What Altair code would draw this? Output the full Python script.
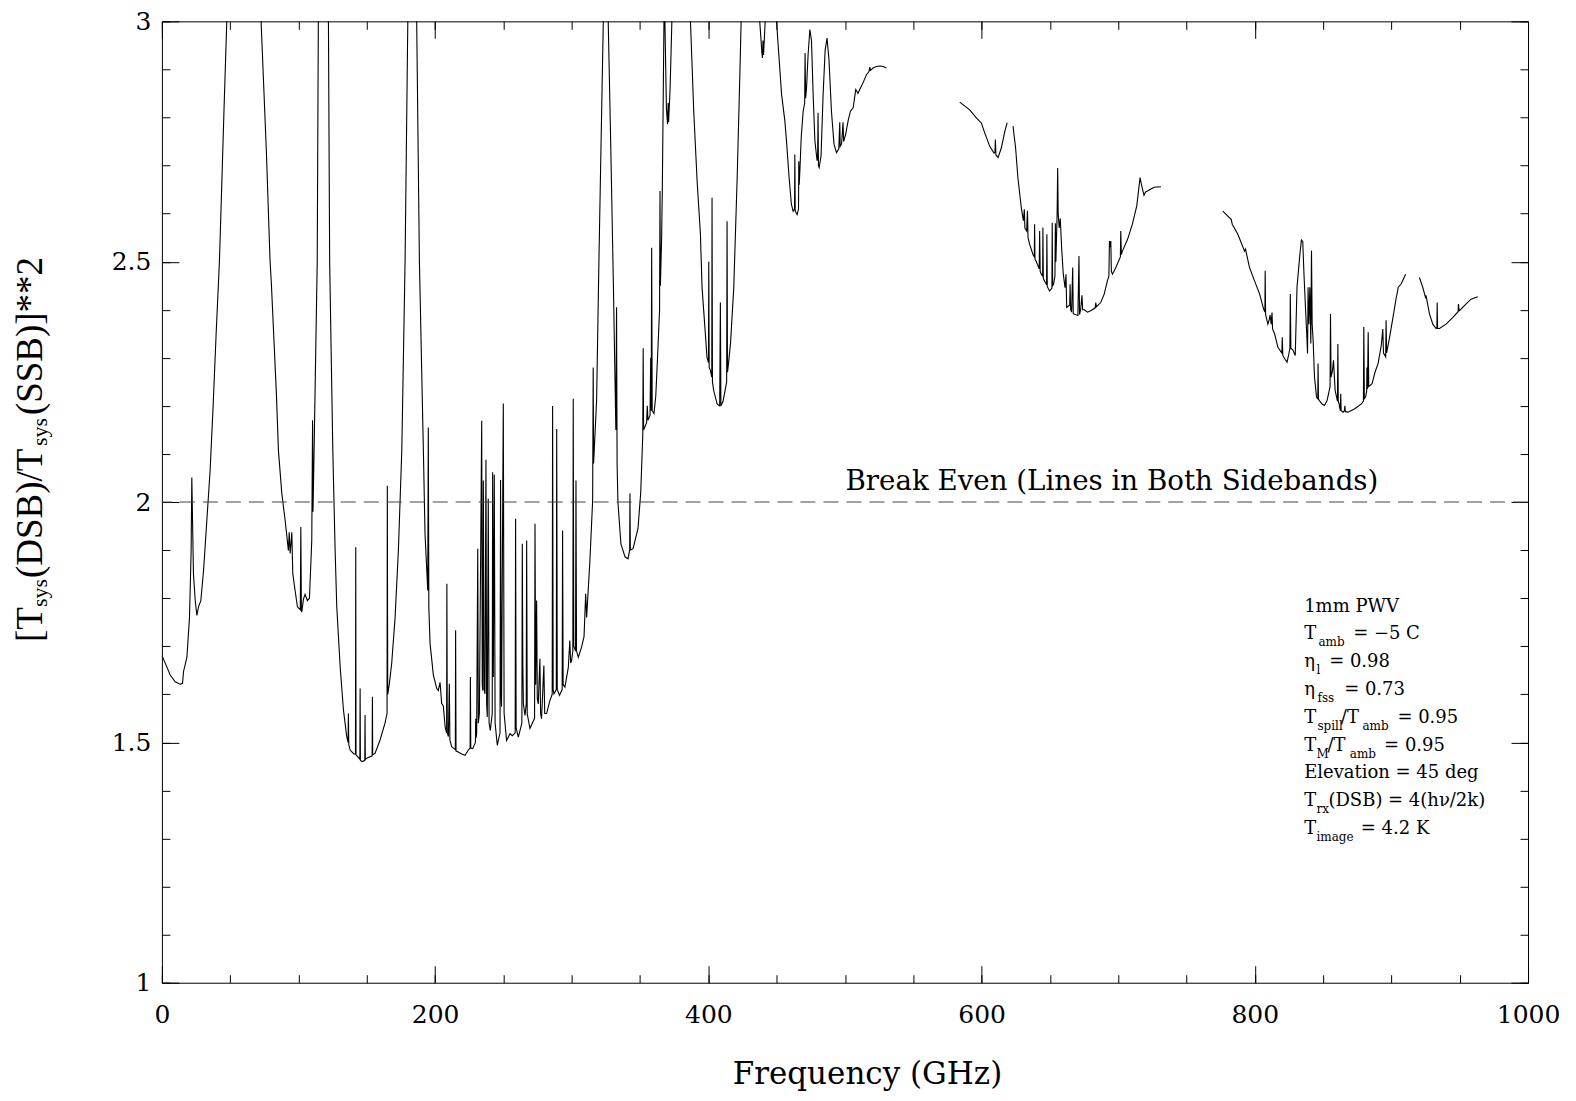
import altair as alt
import pandas as pd

# ---------------- data ----------------
# (frequency GHz, [Tsys(DSB)/Tsys(SSB)]**2) ; values > 3 are off-scale (clipped)
SEG1 = [
    (0.0, 1.681), (3.6, 1.657), (6.1, 1.640), (9.7, 1.626), (13.4, 1.621), (15.1, 1.623),
    (15.8, 1.647), (18.3, 1.677), (20.2, 1.760), (21.4, 1.899), (21.9, 2.051), (22.5, 1.95),
    (23.1, 1.85), (24.4, 1.795), (25.6, 1.764), (26.8, 1.782), (28.5, 1.795), (30.5, 1.858),
    (32.9, 1.962), (35.3, 2.066), (37.5, 2.20), (39.7, 2.35), (42.1, 2.50), (43.4, 2.62),
    (45.5, 2.82), (47.5, 3.0), (49.0, 3.4), (60.0, 3.6), (71.0, 3.4), (72.6, 3.0),
    (76.5, 2.727), (79.2, 2.50), (80.1, 2.456), (83.8, 2.226), (85.3, 2.107), (87.8, 2.017),
    (90.2, 1.962), (92.6, 1.899), (93.2, 1.937), (93.9, 1.893), (95.1, 1.937), (95.8, 1.851),
    (97.5, 1.816), (99.2, 1.782), (101.3, 1.776), (101.7, 1.948), (102.1, 1.775), (102.4, 1.771),
    (103.6, 1.798), (104.8, 1.808), (106.5, 1.795), (108.0, 1.80), (109.7, 1.920), (110.3, 2.17),
    (110.6, 1.98), (111.4, 2.107), (113.7, 2.50), (114.5, 3.0), (116.0, 3.5), (120.0, 3.5),
    (121.9, 3.0), (122.8, 2.50), (125.1, 2.107), (126.8, 1.899), (128.0, 1.782), (130.5, 1.657),
    (132.9, 1.567), (135.3, 1.512), (136.3, 1.50), (136.5, 1.560), (136.8, 1.495), (137.8, 1.484),
    (140.2, 1.477), (141.7, 1.475), (141.9, 1.906), (142.1, 1.474), (144.9, 1.465), (145.1, 1.612),
    (145.3, 1.463), (146.5, 1.460), (148.5, 1.462), (148.7, 1.557), (148.9, 1.464), (149.9, 1.467),
    (153.9, 1.472), (154.1, 1.595), (154.3, 1.474), (156.0, 1.477), (159.7, 1.505), (163.3, 1.540),
    (164.8, 1.56), (165.0, 2.034), (165.3, 1.60), (166.5, 1.622), (168.2, 1.664), (170.7, 1.760),
    (173.1, 1.899), (175.6, 2.107), (178.0, 2.50), (180.0, 3.0), (181.0, 3.5), (185.5, 3.5),
    (186.5, 3.0), (188.5, 2.50), (191.4, 2.107), (192.6, 1.934), (194.6, 1.816), (195.0, 2.155),
    (195.4, 1.78), (196.3, 1.706), (198.7, 1.640), (201.2, 1.612), (202.3, 1.608), (203.6, 1.625),
    (204.8, 1.581), (206.0, 1.576), (207.3, 1.532), (208.4, 1.52), (208.6, 1.830), (208.9, 1.52),
    (209.7, 1.512), (210.4, 1.622), (210.8, 1.505), (212.1, 1.491), (214.8, 1.485), (215.0, 1.733),
    (215.3, 1.482), (216.9, 1.480), (219.5, 1.476), (221.9, 1.473), (224.3, 1.484), (225.6, 1.488),
    (225.8, 1.636), (226.1, 1.488), (227.5, 1.487), (229.5, 1.50), (229.7, 1.549), (230.0, 1.51),
    (230.4, 1.518), (231.2, 1.903), (231.6, 1.54), (232.4, 1.560), (234.1, 2.169), (234.5, 1.62),
    (234.8, 1.608), (235.3, 2.045), (235.8, 1.61), (236.5, 1.601), (237.2, 2.088), (237.7, 1.58),
    (238.2, 1.553), (238.9, 2.007), (239.5, 1.54), (240.4, 1.525), (241.8, 1.56), (242.1, 2.062),
    (242.6, 1.636), (243.3, 2.057), (243.9, 1.54), (245.5, 1.494), (247.5, 1.52), (247.9, 2.046),
    (248.3, 1.60), (248.6, 1.574), (249.9, 2.205), (250.5, 1.56), (252.3, 1.504), (254.8, 1.518),
    (256.5, 1.514), (258.6, 1.52), (258.9, 1.965), (259.3, 1.53), (260.9, 1.511), (263.5, 1.54),
    (263.8, 1.913), (264.2, 1.66), (264.6, 1.58), (265.8, 1.556), (266.7, 1.58), (267.0, 1.920),
    (267.4, 1.56), (269.4, 1.529), (272.8, 1.55), (273.1, 1.955), (273.6, 1.62), (274.3, 1.795),
    (274.8, 1.59), (275.5, 1.580), (276.7, 1.674), (277.2, 1.56), (277.9, 1.549), (279.6, 1.660),
    (280.2, 1.56), (281.6, 1.560), (284.0, 1.587), (285.7, 1.60), (286.0, 2.200), (286.4, 1.61),
    (287.0, 1.601), (288.7, 1.61), (289.0, 2.152), (289.4, 1.61), (291.0, 1.598), (293.0, 1.61),
    (293.3, 1.941), (293.7, 1.62), (295.0, 1.615), (297.5, 1.656), (298.6, 1.712), (299.2, 1.665),
    (299.9, 1.670), (300.8, 1.69), (301.1, 2.215), (301.5, 1.70), (302.8, 1.69), (303.1, 2.045),
    (303.5, 1.69), (304.8, 1.677), (307.2, 1.698), (309.0, 1.72), (310.2, 1.809), (310.9, 1.760),
    (313.3, 1.878), (315.3, 2.003), (315.7, 2.28), (316.0, 2.08), (318.2, 2.211), (319.9, 2.502),
    (323.1, 3.0), (324.0, 3.5), (326.0, 3.5), (326.7, 3.0), (328.5, 2.75), (330.5, 2.45),
    (332.3, 2.15), (332.8, 2.405), (333.2, 2.08), (333.8, 2.0), (336.0, 1.913), (339.0, 1.886),
    (341.2, 1.882), (342.4, 1.90), (342.6, 2.018), (342.9, 1.90), (344.9, 1.903), (348.5, 1.945),
    (350.5, 2.02), (352.0, 2.14), (352.3, 2.32), (352.6, 2.15), (354.8, 2.165), (355.3, 2.20),
    (355.8, 2.17), (357.3, 2.18), (357.8, 2.30), (358.2, 2.19), (358.5, 2.529), (358.9, 2.19),
    (360.2, 2.184), (361.5, 2.22), (362.8, 2.30), (364.3, 2.40), (364.6, 2.647), (364.9, 2.45),
    (365.8, 2.55), (366.3, 2.65), (367.0, 2.85), (367.5, 3.0), (367.8, 3.1), (368.2, 3.0),
    (369.3, 2.82), (370.1, 2.786), (370.6, 2.83), (370.9, 2.79), (372.0, 2.86), (373.3, 3.0),
    (375.0, 3.5), (385.0, 3.5), (386.9, 3.0), (389.3, 2.813), (391.8, 2.667), (394.2, 2.557),
    (395.4, 2.446), (396.6, 2.398), (397.8, 2.35), (399.0, 2.301), (400.1, 2.29), (400.3, 2.50),
    (400.6, 2.28), (401.5, 2.274), (402.5, 2.26), (402.7, 2.633), (403.0, 2.25), (403.9, 2.232),
    (406.4, 2.204), (408.3, 2.200), (408.8, 2.415), (409.2, 2.20), (410.8, 2.21), (413.4, 2.25),
    (413.7, 2.584), (414.0, 2.27), (414.2, 2.274), (416.2, 2.329), (418.6, 2.446), (421.1, 2.675),
    (423.0, 2.882), (424.0, 3.0), (425.0, 3.5), (436.5, 3.5), (437.6, 3.0), (439.2, 2.935),
    (439.6, 2.924), (440.0, 2.96), (440.4, 2.93), (441.6, 3.0), (442.5, 3.5), (449.0, 3.5),
    (449.9, 3.0), (453.6, 2.848), (456.0, 2.793), (457.2, 2.751), (459.1, 2.675), (460.8, 2.619),
    (462.1, 2.605), (463.1, 2.61), (463.3, 2.723), (463.6, 2.605), (465.0, 2.598), (466.0, 2.61),
    (466.2, 2.709), (466.5, 2.66), (467.0, 2.689), (468.0, 2.76), (469.4, 2.813), (470.5, 2.83),
    (470.8, 2.934), (471.2, 2.84), (471.8, 2.858), (473.0, 2.93), (474.3, 2.983), (475.5, 2.96),
    (476.7, 2.848), (478.0, 2.751), (479.6, 2.710), (480.0, 2.72), (480.3, 2.81), (480.6, 2.70),
    (481.1, 2.696), (482.5, 2.72), (484.0, 2.848), (485.5, 2.94), (486.9, 2.965), (488.3, 2.92),
    (490.1, 2.813), (492.0, 2.744), (493.8, 2.727), (495.5, 2.735), (496.2, 2.79), (496.5, 2.74),
    (497.5, 2.745), (498.6, 2.79), (499.0, 2.75), (500.5, 2.765), (502.3, 2.793), (504.0, 2.813),
    (506.0, 2.820), (507.9, 2.858), (508.6, 2.855), (509.5, 2.85), (510.8, 2.858), (513.2, 2.872),
    (515.7, 2.889), (517.5, 2.895), (518.2, 2.905), (518.6, 2.898), (520.6, 2.903), (523.0, 2.906),
    (525.5, 2.907), (528.0, 2.906), (530.4, 2.903),
]

SEG2 = [
    (584.0, 2.832), (591.3, 2.816), (596.2, 2.799), (599.0, 2.791), (599.8, 2.789), (602.3, 2.768),
    (606.0, 2.740), (609.1, 2.726), (609.8, 2.728), (610.1, 2.754), (610.5, 2.722), (612.1, 2.717),
    (614.5, 2.737), (617.0, 2.771), (618.7, 2.789),
]

SEG3 = [
    (623.0, 2.782), (624.9, 2.737), (626.6, 2.674), (629.1, 2.612), (630.6, 2.585), (631.3, 2.609),
    (631.7, 2.57), (633.0, 2.564), (633.6, 2.606), (634.0, 2.55), (635.2, 2.536), (637.6, 2.515),
    (638.6, 2.51), (638.8, 2.578), (639.1, 2.505), (640.0, 2.501), (642.2, 2.485), (642.5, 2.564),
    (642.9, 2.48), (643.7, 2.474), (644.7, 2.47), (644.9, 2.571), (645.2, 2.465), (646.1, 2.460),
    (647.6, 2.452), (647.8, 2.557), (648.1, 2.448), (649.8, 2.439), (651.5, 2.445), (651.7, 2.581),
    (652.0, 2.45), (652.7, 2.453), (653.7, 2.47), (654.0, 2.58), (654.4, 2.50), (655.3, 2.60),
    (655.7, 2.695), (656.1, 2.60), (656.8, 2.57), (657.6, 2.59), (658.6, 2.529), (659.8, 2.474),
    (661.1, 2.446), (661.8, 2.474), (662.3, 2.405), (664.5, 2.41), (664.8, 2.453), (665.2, 2.40),
    (665.9, 2.395), (666.7, 2.488), (667.1, 2.392), (667.6, 2.391), (670.5, 2.388), (671.3, 2.512),
    (671.7, 2.39), (672.5, 2.40), (673.5, 2.43), (674.0, 2.40), (675.2, 2.40), (677.5, 2.395),
    (679.9, 2.398), (683.2, 2.404), (683.6, 2.415), (684.0, 2.406), (687.2, 2.415), (689.7, 2.432),
    (692.1, 2.460), (693.2, 2.47), (693.6, 2.543), (694.2, 2.53), (694.6, 2.543), (695.0, 2.48),
    (695.8, 2.474), (698.3, 2.488), (701.6, 2.51), (701.9, 2.564), (702.3, 2.515), (703.1, 2.522),
    (706.8, 2.546), (710.4, 2.578), (713.6, 2.616), (716.0, 2.675), (717.2, 2.658), (718.9, 2.638),
    (720.0, 2.645), (721.4, 2.647), (723.9, 2.651), (726.4, 2.655), (731.3, 2.656),
]

SEG4 = [
    (776.6, 2.605), (779.5, 2.597), (782.7, 2.588), (783.5, 2.578), (787.6, 2.557), (792.5, 2.522),
    (793.2, 2.526), (796.1, 2.488), (799.8, 2.460), (803.5, 2.433), (806.4, 2.402), (807.4, 2.395),
    (807.6, 2.481), (807.9, 2.39), (809.6, 2.370), (810.6, 2.38), (811.2, 2.389), (812.0, 2.37),
    (812.6, 2.394), (813.0, 2.36), (814.5, 2.350), (816.9, 2.322), (819.8, 2.31), (820.1, 2.343),
    (820.5, 2.305), (821.9, 2.298), (823.6, 2.291), (825.0, 2.309), (825.7, 2.32), (826.0, 2.433),
    (826.4, 2.32), (827.9, 2.316), (829.6, 2.305), (830.9, 2.447), (832.8, 2.509), (834.1, 2.545),
    (835.1, 2.542), (836.0, 2.474), (837.2, 2.398), (838.0, 2.35), (838.6, 2.309), (839.0, 2.447),
    (839.6, 2.37), (840.3, 2.447), (841.0, 2.33), (841.5, 2.523), (842.0, 2.37), (842.7, 2.336),
    (843.7, 2.260), (845.2, 2.218), (846.1, 2.215), (846.3, 2.288), (846.6, 2.214), (847.3, 2.211),
    (849.2, 2.204), (851.0, 2.201), (852.9, 2.211), (855.1, 2.24), (855.4, 2.391), (855.8, 2.26),
    (856.9, 2.274), (857.6, 2.295), (858.8, 2.232), (860.5, 2.21), (860.8, 2.329), (861.1, 2.21),
    (861.7, 2.204), (862.6, 2.19), (862.9, 2.225), (863.2, 2.19), (864.6, 2.187), (865.6, 2.19),
    (865.9, 2.20), (866.3, 2.188), (868.3, 2.187), (873.2, 2.194), (878.0, 2.204), (879.5, 2.21),
    (879.8, 2.364), (880.2, 2.215), (881.0, 2.218), (881.9, 2.23), (882.1, 2.28), (882.5, 2.235),
    (883.0, 2.353), (883.4, 2.24), (885.8, 2.246), (888.0, 2.27), (890.2, 2.288), (892.6, 2.326),
    (893.7, 2.36), (894.2, 2.31), (895.8, 2.302), (896.1, 2.378), (896.5, 2.31), (898.7, 2.343),
    (901.2, 2.385), (903.6, 2.426), (904.6, 2.44), (905.0, 2.447), (907.2, 2.454), (910.4, 2.474),
]

SEG5 = [
    (920.5, 2.467), (922.9, 2.447), (924.9, 2.426), (925.3, 2.43), (927.9, 2.391), (930.3, 2.370),
    (932.7, 2.361), (933.3, 2.362), (933.5, 2.415), (933.8, 2.361), (935.2, 2.361), (940.0, 2.370),
    (945.0, 2.384), (948.8, 2.396), (949.1, 2.412), (949.5, 2.398), (949.8, 2.398), (954.7, 2.412),
    (958.3, 2.422), (963.2, 2.427),
]

X_MAJOR = [0, 200, 400, 600, 800, 1000]
X_MINOR = [50 * i for i in range(21)]
Y_MAJOR = [1.0, 1.5, 2.0, 2.5, 3.0]
Y_MINOR = [round(1.0 + 0.1 * i, 1) for i in range(21)]
BREAK_EVEN = 2.0

BREAK_TEXT = "Break Even (Lines in Both Sidebands)"
X_TITLE = "Frequency (GHz)"

# annotation block: (text, page-x, line index)
ANNOT_MAIN = [
    ("1mm PWV", 1305, 0),
    ("T", 1305, 1), ("= \u22125 C", 1354, 1),
    ("\u03b7", 1305, 2), ("= 0.98", 1330, 2),
    ("\u03b7", 1305, 3), ("= 0.73", 1345, 3),
    ("T", 1305, 4), ("/T", 1341.7, 4), ("= 0.95", 1398.3, 4),
    ("T", 1305, 5), ("/T", 1328.3, 5), ("= 0.95", 1385, 5),
    ("Elevation = 45 deg", 1305, 6),
    ("T", 1305, 7), ("(DSB) = 4(h\u03bd/2k)", 1329.3, 7),
    ("T", 1305, 8), ("= 4.2 K", 1361.7, 8),
]
ANNOT_SUB = [
    ("amb", 1319.3, 1), ("l", 1317.3, 2), ("fss", 1318.3, 3),
    ("spill", 1318.3, 4), ("amb", 1363.3, 4),
    ("M", 1317.3, 5), ("amb", 1350.7, 5),
    ("rx", 1317.3, 7), ("image", 1317.3, 8),
]
# y-axis title pieces (rotated, reading upward): (text, page-y where the piece starts)
YT_MAIN = [("[T", 642), ("(DSB)/T", 578), ("(SSB)]**2", 415)]
YT_SUB = [("sys", 607), ("sys", 446)]

# ---------------- layout ----------------
W, H = 1367, 962
X0, Y0 = 162, 21          # page position of the plot origin


def fx(px):
    return (px - X0) * 1000.0 / W


def fy(py):
    return 3.0 - (py - Y0) * 2.0 / H


rows = []
for k, seg in enumerate([SEG1, SEG2, SEG3, SEG4, SEG5]):
    for i, (f, v) in enumerate(seg):
        rows.append({"freq": f, "ratio": v, "seg": k, "ord": i})
curve = pd.DataFrame(rows)

xs = alt.Scale(domain=[0, 1000], nice=False, zero=False)
ys = alt.Scale(domain=[1, 3], nice=False, zero=False)

SERIF = "DejaVu Serif"
TIMES = "Liberation Serif"


def tick_axis(orient, values, size, offset):
    return alt.Axis(orient=orient, values=values, tickSize=size, offset=offset,
                    grid=False, domain=False, labels=False, ticks=True,
                    tickColor="black", tickWidth=1, title=None)


line = alt.Chart(curve).mark_line(color="black", strokeWidth=1.1, clip=True).encode(
    x=alt.X("freq:Q", scale=xs, axis=alt.Axis(
        orient="bottom", values=X_MAJOR, grid=False, domain=False, ticks=False, tickSize=0,
        labelFont=SERIF, labelFontSize=25, labelColor="black", labelPadding=20,
        labelFlush=False, labelOverlap=False, format="d", title=None)),
    y=alt.Y("ratio:Q", scale=ys, axis=alt.Axis(
        orient="left", values=Y_MAJOR, grid=False, domain=False, ticks=False, tickSize=0,
        labelFont=SERIF, labelFontSize=25, labelColor="black", labelPadding=11,
        labelFlush=False, labelOverlap=False, format="~g", title=None)),
    detail="seg:N",
    order=alt.Order("ord:Q"),
)

dummy = pd.DataFrame({"freq": [0, 1000], "ratio": [1, 3]})


def tick_layer(xa, ya):
    return alt.Chart(dummy).mark_point(opacity=0).encode(
        x=alt.X("freq:Q", scale=xs, axis=xa),
        y=alt.Y("ratio:Q", scale=ys, axis=ya),
    )


t1 = tick_layer(tick_axis("top", X_MAJOR, 17, -H), tick_axis("right", Y_MAJOR, 17, -W))
t2 = tick_layer(tick_axis("top", X_MINOR, 8, -H), tick_axis("right", Y_MINOR, 8, -W))
t3 = tick_layer(tick_axis("bottom", X_MAJOR, 17, -H), tick_axis("left", Y_MAJOR, 17, -W))
t4 = tick_layer(tick_axis("bottom", X_MINOR, 8, -H), tick_axis("left", Y_MINOR, 8, -W))

rule = alt.Chart(pd.DataFrame({"ratio": [BREAK_EVEN]})).mark_rule(
    color="#444444", strokeWidth=1, strokeDash=[15, 8]
).encode(y=alt.Y("ratio:Q", scale=ys, axis=None))


def text_layer(df, **kw):
    return alt.Chart(df).mark_text(color="black", **kw).encode(
        x=alt.X("freq:Q", scale=xs, axis=None),
        y=alt.Y("ratio:Q", scale=ys, axis=None),
        text="t:N",
    )


be_text = text_layer(pd.DataFrame({"freq": [fx(846)], "ratio": [fy(490)], "t": [BREAK_TEXT]}),
                     font=SERIF, fontSize=27.7, align="left", baseline="alphabetic")

LINE0, LSTEP, SUBDY = 611.7, 27.8, 7.0
am = pd.DataFrame([{"freq": fx(x), "ratio": fy(LINE0 + LSTEP * li), "t": t} for t, x, li in ANNOT_MAIN])
asub = pd.DataFrame([{"freq": fx(x), "ratio": fy(LINE0 + LSTEP * li + SUBDY), "t": t}
                     for t, x, li in ANNOT_SUB])
ann_main = text_layer(am, font=SERIF, fontSize=18, align="left", baseline="alphabetic")
ann_sub = text_layer(asub, font=SERIF, fontSize=12, align="left", baseline="alphabetic")

ytm = pd.DataFrame([{"freq": fx(41.7), "ratio": fy(py), "t": t} for t, py in YT_MAIN])
yts = pd.DataFrame([{"freq": fx(47.0), "ratio": fy(py), "t": t} for t, py in YT_SUB])
yt_main = text_layer(ytm, font=TIMES, fontSize=37, angle=270, align="left", baseline="alphabetic")
yt_sub = text_layer(yts, font=TIMES, fontSize=22, angle=270, align="left", baseline="alphabetic")

xt = text_layer(pd.DataFrame({"freq": [fx(868)], "ratio": [fy(1084)], "t": [X_TITLE]}),
                font=SERIF, fontSize=31, align="center", baseline="alphabetic")

chart = alt.layer(
    line, t1, t2, t3, t4, rule, be_text, ann_main, ann_sub, yt_main, yt_sub, xt
).resolve_axis(x="independent", y="independent").properties(
    width=W, height=H,
    autosize=alt.AutoSizeParams(type="none"),
    padding={"left": 154, "top": 13, "right": 40, "bottom": 110},
    background="white",
).configure_view(stroke="black", strokeWidth=1)

chart.save("out.html", embed_options={"renderer": "svg", "actions": False})
